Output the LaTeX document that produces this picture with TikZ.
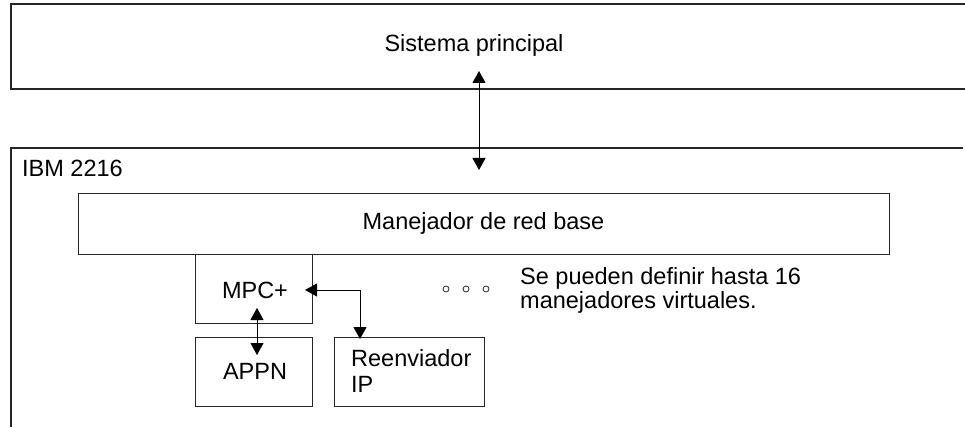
\documentclass[tikz,border=0pt]{standalone}
\usepackage{fontspec}
\setmainfont{Liberation Sans}
\usetikzlibrary{arrows.meta}
\begin{document}
\begin{tikzpicture}[x=1pt,y=-1pt,
  every node/.style={font=\fontsize{23.5}{24}\selectfont},
  frame/.style={draw=black!85, line width=1.2pt},
  box/.style={frame, inner sep=0pt, anchor=north west},
  link/.style={draw=black, line width=1pt, {Triangle[length=12pt,width=13pt]}-{Triangle[length=12pt,width=13pt]}},
  dot/.style={circle, draw=black!85, line width=0.8pt, inner sep=0pt, minimum size=6pt}
]
\useasboundingbox (0,0) rectangle (965,427);
% host system (open at right)
\draw[frame] (966,4) -- (11,4) -- (11,89) -- (966,89);
\node (host) at (474,45) {Sistema principal};
% IBM 2216 (open at right and bottom)
\draw[frame] (963,148) -- (11,148) -- (11,428);
\node[anchor=base west, inner sep=0pt] (ibm) at (22,177) {IBM 2216};
% boxes
\node[box, minimum width=811pt, minimum height=61pt] (mgr) at (78,193) {};
\node (mgrtext) at (483.5,223.5) {Manejador de red base};
\node[box, minimum width=117pt, minimum height=69pt] (mpc) at (195,254) {};
\node (mpctext) at (255,290) {MPC+};
\node[box, minimum width=117pt, minimum height=69pt] (appn) at (195,337) {};
\node (appntext) at (255,371.5) {APPN};
\node[box, minimum width=150pt, minimum height=69pt] (ip) at (334,337) {};
\node[anchor=north west, align=left, inner sep=0pt,
      font=\fontsize{23.5}{26}\selectfont] (iptext) at (351,349) {Reenviador\\IP};
% dots and note
\node[dot] (d1) at (446,289) {};
\node[dot] (d2) at (466,289) {};
\node[dot] (d3) at (486,289) {};
\node[anchor=north west, align=left, inner sep=0pt,
      font=\fontsize{23.5}{24}\selectfont] (note) at (520,267) {Se pueden definir hasta 16\\manejadores virtuales.};
% connectors
\coordinate (h1) at (479,71);
\coordinate (h2) at (479,170);
\draw[link] (h1) -- (h2);
\coordinate (v1) at (257,308);
\coordinate (v2) at (257,355);
\draw[link] (v1) -- (v2);
\coordinate (r1) at (305,290);
\coordinate (r2) at (360,339);
\draw[link] (r1) -| (r2);
\end{tikzpicture}
\end{document}
